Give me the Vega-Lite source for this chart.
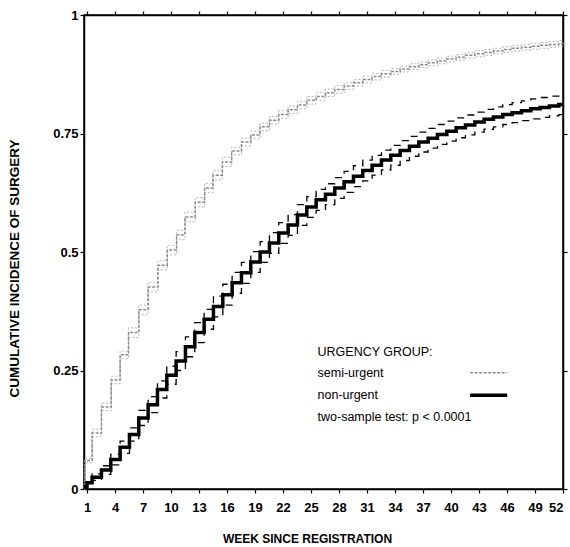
{
  "$schema": "https://vega.github.io/schema/vega-lite/v6.json",
  "width": 479,
  "height": 474,
  "autosize": {"type": "none"},
  "padding": {"left": 84, "top": 15, "right": 7, "bottom": 58},
  "background": "white",
  "config": {
    "view": {"stroke": "black", "strokeWidth": 1.5},
    "font": "Liberation Sans",
    "axis": {
      "grid": false,
      "domainColor": "black",
      "domainWidth": 1.5,
      "tickColor": "black",
      "tickWidth": 1.2,
      "tickSize": 4,
      "labelColor": "black",
      "labelFont": "Liberation Sans",
      "labelFontWeight": "bold",
      "labelFontSize": 13,
      "titleColor": "black",
      "titleFont": "Liberation Sans",
      "titleFontWeight": "bold",
      "titleFontSize": 12
    }
  },
  "datasets": {
    "semi": [
      {"week": 0.68, "est": 0, "lo": 0, "hi": 0},
      {"week": 0.79, "est": 0.06, "lo": 0.055, "hi": 0.065},
      {"week": 1.55, "est": 0.118, "lo": 0.11, "hi": 0.126},
      {"week": 2.55, "est": 0.173, "lo": 0.165, "hi": 0.181},
      {"week": 3.6, "est": 0.23, "lo": 0.222, "hi": 0.238},
      {"week": 4.55, "est": 0.283, "lo": 0.275, "hi": 0.291},
      {"week": 5.45, "est": 0.33, "lo": 0.32, "hi": 0.34},
      {"week": 6.55, "est": 0.378, "lo": 0.368, "hi": 0.388},
      {"week": 7.55, "est": 0.426, "lo": 0.416, "hi": 0.436},
      {"week": 8.6, "est": 0.472, "lo": 0.462, "hi": 0.482},
      {"week": 9.6, "est": 0.504, "lo": 0.494, "hi": 0.514},
      {"week": 10.6, "est": 0.536, "lo": 0.526, "hi": 0.546},
      {"week": 11.5, "est": 0.574, "lo": 0.564, "hi": 0.584},
      {"week": 12.6, "est": 0.605, "lo": 0.595, "hi": 0.615},
      {"week": 13.6, "est": 0.635, "lo": 0.625, "hi": 0.645},
      {"week": 14.5, "est": 0.662, "lo": 0.652, "hi": 0.672},
      {"week": 15.5, "est": 0.69, "lo": 0.68, "hi": 0.7},
      {"week": 16.5, "est": 0.713, "lo": 0.705, "hi": 0.721},
      {"week": 17.55, "est": 0.732, "lo": 0.724, "hi": 0.74},
      {"week": 18.55, "est": 0.747, "lo": 0.739, "hi": 0.755},
      {"week": 19.55, "est": 0.764, "lo": 0.756, "hi": 0.772},
      {"week": 20.55, "est": 0.778, "lo": 0.77, "hi": 0.786},
      {"week": 21.55, "est": 0.79, "lo": 0.782, "hi": 0.798},
      {"week": 22.55, "est": 0.8, "lo": 0.792, "hi": 0.808},
      {"week": 23.55, "est": 0.81, "lo": 0.802, "hi": 0.818},
      {"week": 24.55, "est": 0.82, "lo": 0.812, "hi": 0.828},
      {"week": 25.55, "est": 0.828, "lo": 0.82, "hi": 0.836},
      {"week": 26.55, "est": 0.836, "lo": 0.828, "hi": 0.844},
      {"week": 27.55, "est": 0.843, "lo": 0.835, "hi": 0.851},
      {"week": 28.55, "est": 0.85, "lo": 0.843, "hi": 0.857},
      {"week": 29.55, "est": 0.857, "lo": 0.85, "hi": 0.864},
      {"week": 30.55, "est": 0.864, "lo": 0.857, "hi": 0.871},
      {"week": 31.55, "est": 0.87, "lo": 0.863, "hi": 0.877},
      {"week": 32.55, "est": 0.876, "lo": 0.869, "hi": 0.883},
      {"week": 33.55, "est": 0.881, "lo": 0.875, "hi": 0.887},
      {"week": 34.55, "est": 0.886, "lo": 0.88, "hi": 0.892},
      {"week": 35.55, "est": 0.891, "lo": 0.885, "hi": 0.897},
      {"week": 36.55, "est": 0.895, "lo": 0.889, "hi": 0.901},
      {"week": 37.55, "est": 0.899, "lo": 0.893, "hi": 0.905},
      {"week": 38.55, "est": 0.903, "lo": 0.897, "hi": 0.909},
      {"week": 39.55, "est": 0.907, "lo": 0.901, "hi": 0.913},
      {"week": 40.55, "est": 0.911, "lo": 0.905, "hi": 0.917},
      {"week": 41.55, "est": 0.915, "lo": 0.909, "hi": 0.921},
      {"week": 42.55, "est": 0.918, "lo": 0.912, "hi": 0.924},
      {"week": 43.55, "est": 0.921, "lo": 0.915, "hi": 0.927},
      {"week": 44.55, "est": 0.924, "lo": 0.918, "hi": 0.93},
      {"week": 45.55, "est": 0.927, "lo": 0.921, "hi": 0.933},
      {"week": 46.55, "est": 0.93, "lo": 0.924, "hi": 0.936},
      {"week": 47.55, "est": 0.932, "lo": 0.926, "hi": 0.938},
      {"week": 48.55, "est": 0.934, "lo": 0.928, "hi": 0.94},
      {"week": 49.55, "est": 0.936, "lo": 0.93, "hi": 0.942},
      {"week": 50.55, "est": 0.938, "lo": 0.932, "hi": 0.944},
      {"week": 51.55, "est": 0.94, "lo": 0.934, "hi": 0.946},
      {"week": 52, "est": 0.941, "lo": 0.935, "hi": 0.947}
    ],
    "non": [
      {"week": 0.68, "est": 0.004, "lo": 0.001, "hi": 0.007},
      {"week": 1.0, "est": 0.013, "lo": 0.008, "hi": 0.018},
      {"week": 1.55, "est": 0.025, "lo": 0.018, "hi": 0.032},
      {"week": 2.55, "est": 0.04, "lo": 0.031, "hi": 0.049},
      {"week": 3.55, "est": 0.062, "lo": 0.051, "hi": 0.073},
      {"week": 4.55, "est": 0.088, "lo": 0.075, "hi": 0.101},
      {"week": 5.55, "est": 0.115, "lo": 0.101, "hi": 0.129},
      {"week": 6.55, "est": 0.15, "lo": 0.134, "hi": 0.166},
      {"week": 7.55, "est": 0.178, "lo": 0.161, "hi": 0.195},
      {"week": 8.55, "est": 0.21, "lo": 0.192, "hi": 0.228},
      {"week": 9.55, "est": 0.24, "lo": 0.221, "hi": 0.259},
      {"week": 10.55, "est": 0.27, "lo": 0.25, "hi": 0.29},
      {"week": 11.55, "est": 0.3, "lo": 0.279, "hi": 0.321},
      {"week": 12.55, "est": 0.33, "lo": 0.309, "hi": 0.351},
      {"week": 13.55, "est": 0.358, "lo": 0.337, "hi": 0.379},
      {"week": 14.55, "est": 0.385, "lo": 0.363, "hi": 0.407},
      {"week": 15.55, "est": 0.41, "lo": 0.388, "hi": 0.432},
      {"week": 16.55, "est": 0.435, "lo": 0.413, "hi": 0.457},
      {"week": 17.55, "est": 0.456, "lo": 0.434, "hi": 0.478},
      {"week": 18.55, "est": 0.479, "lo": 0.457, "hi": 0.501},
      {"week": 19.55, "est": 0.5, "lo": 0.478, "hi": 0.522},
      {"week": 20.55, "est": 0.519, "lo": 0.497, "hi": 0.541},
      {"week": 21.55, "est": 0.54, "lo": 0.518, "hi": 0.562},
      {"week": 22.55, "est": 0.557, "lo": 0.535, "hi": 0.579},
      {"week": 23.55, "est": 0.578, "lo": 0.556, "hi": 0.6},
      {"week": 24.55, "est": 0.595, "lo": 0.573, "hi": 0.617},
      {"week": 25.55, "est": 0.61, "lo": 0.588, "hi": 0.632},
      {"week": 26.55, "est": 0.622, "lo": 0.6, "hi": 0.644},
      {"week": 27.55, "est": 0.635, "lo": 0.613, "hi": 0.657},
      {"week": 28.55, "est": 0.648, "lo": 0.626, "hi": 0.67},
      {"week": 29.55, "est": 0.66, "lo": 0.638, "hi": 0.682},
      {"week": 30.55, "est": 0.672, "lo": 0.65, "hi": 0.694},
      {"week": 31.55, "est": 0.683, "lo": 0.662, "hi": 0.704},
      {"week": 32.55, "est": 0.694, "lo": 0.673, "hi": 0.715},
      {"week": 33.55, "est": 0.704, "lo": 0.683, "hi": 0.725},
      {"week": 34.55, "est": 0.714, "lo": 0.693, "hi": 0.735},
      {"week": 35.55, "est": 0.723, "lo": 0.702, "hi": 0.744},
      {"week": 36.55, "est": 0.732, "lo": 0.711, "hi": 0.753},
      {"week": 37.55, "est": 0.74, "lo": 0.719, "hi": 0.761},
      {"week": 38.55, "est": 0.748, "lo": 0.727, "hi": 0.769},
      {"week": 39.55, "est": 0.755, "lo": 0.734, "hi": 0.776},
      {"week": 40.55, "est": 0.762, "lo": 0.741, "hi": 0.783},
      {"week": 41.55, "est": 0.768, "lo": 0.747, "hi": 0.789},
      {"week": 42.55, "est": 0.774, "lo": 0.753, "hi": 0.795},
      {"week": 43.55, "est": 0.78, "lo": 0.759, "hi": 0.801},
      {"week": 44.55, "est": 0.785, "lo": 0.764, "hi": 0.806},
      {"week": 45.55, "est": 0.79, "lo": 0.769, "hi": 0.811},
      {"week": 46.55, "est": 0.794, "lo": 0.773, "hi": 0.815},
      {"week": 47.55, "est": 0.798, "lo": 0.777, "hi": 0.819},
      {"week": 48.55, "est": 0.802, "lo": 0.781, "hi": 0.823},
      {"week": 49.55, "est": 0.805, "lo": 0.784, "hi": 0.826},
      {"week": 50.55, "est": 0.808, "lo": 0.787, "hi": 0.829},
      {"week": 51.55, "est": 0.811, "lo": 0.79, "hi": 0.832},
      {"week": 52, "est": 0.811, "lo": 0.79, "hi": 0.832}
    ],
    "legendLines": [
      {"group": "semi-urgent", "week": 42.05, "week2": 46.02, "y": 0.245},
      {"group": "non-urgent", "week": 42.05, "week2": 46.02, "y": 0.198}
    ],
    "notes": [
      {"label": "URGENCY GROUP:", "week": 25.7, "y": 0.29},
      {"label": "semi-urgent", "week": 25.7, "y": 0.245},
      {"label": "non-urgent", "week": 25.7, "y": 0.198},
      {"label": "two-sample test: p < 0.0001", "week": 25.7, "y": 0.152}
    ]
  },
  "layer": [
    {
      "data": {"name": "semi"},
      "mark": {"type": "line", "interpolate": "step-after", "color": "#b3b3b3", "strokeWidth": 1, "strokeDash": [2, 2]},
      "encoding": {
        "x": {"field": "week", "type": "quantitative", "scale": {"domain": [0.68, 52], "nice": false, "zero": false},
              "axis": {"orient": "top", "values": [1, 4, 7, 10, 13, 16, 19, 22, 25, 28, 31, 34, 37, 40, 43, 46, 49, 52], "labels": false, "title": null}},
        "y": {"field": "lo", "type": "quantitative", "scale": {"domain": [0, 1], "nice": false},
              "axis": {"orient": "right", "values": [0, 0.25, 0.5, 0.75, 1], "labels": false, "title": null}}
      }
    },
    {
      "data": {"name": "semi"},
      "mark": {"type": "line", "interpolate": "step-after", "color": "#b3b3b3", "strokeWidth": 1, "strokeDash": [2, 2]},
      "encoding": {
        "x": {"field": "week", "type": "quantitative", "axis": null},
        "y": {"field": "hi", "type": "quantitative", "axis": null}
      }
    },
    {
      "data": {"name": "semi"},
      "mark": {"type": "line", "interpolate": "step-after", "color": "#8c8c8c", "strokeWidth": 1.5, "strokeDash": [3, 1.5]},
      "encoding": {
        "x": {"field": "week", "type": "quantitative", "axis": null},
        "y": {"field": "est", "type": "quantitative", "axis": null}
      }
    },
    {
      "data": {"name": "non"},
      "mark": {"type": "line", "interpolate": "step-after", "color": "black", "strokeWidth": 1.3, "strokeDash": [7, 6]},
      "encoding": {
        "x": {"field": "week", "type": "quantitative", "axis": null},
        "y": {"field": "lo", "type": "quantitative", "axis": null}
      }
    },
    {
      "data": {"name": "non"},
      "mark": {"type": "line", "interpolate": "step-after", "color": "black", "strokeWidth": 1.3, "strokeDash": [7, 6]},
      "encoding": {
        "x": {"field": "week", "type": "quantitative", "axis": null},
        "y": {"field": "hi", "type": "quantitative", "axis": null}
      }
    },
    {
      "data": {"name": "non"},
      "mark": {"type": "line", "interpolate": "step-after", "color": "black", "strokeWidth": 3.5},
      "encoding": {
        "x": {"field": "week", "type": "quantitative",
              "axis": {"orient": "bottom", "values": [1, 4, 7, 10, 13, 16, 19, 22, 25, 28, 31, 34, 37, 40, 43, 46, 49, 52],
                       "labelPadding": 8, "title": "WEEK SINCE REGISTRATION", "titleX": 223, "titleY": 49, "titleBaseline": "middle", "titleAnchor": null}},
        "y": {"field": "est", "type": "quantitative",
              "axis": {"orient": "left", "values": [0, 0.25, 0.5, 0.75, 1], "format": ".2~f", "labelPadding": 2,
                       "title": "CUMULATIVE INCIDENCE OF SURGERY", "titleX": -70, "titleY": 253, "titleBaseline": "middle", "titleFontSize": 13.5}}
      }
    },
    {
      "data": {"name": "legendLines"},
      "transform": [{"filter": "datum.group === 'semi-urgent'"}],
      "mark": {"type": "rule", "color": "#8c8c8c", "strokeWidth": 1.5, "strokeDash": [3, 1.5]},
      "encoding": {
        "x": {"field": "week", "type": "quantitative", "axis": null},
        "x2": {"field": "week2"},
        "y": {"field": "y", "type": "quantitative", "axis": null}
      }
    },
    {
      "data": {"name": "legendLines"},
      "transform": [{"filter": "datum.group === 'non-urgent'"}],
      "mark": {"type": "rule", "color": "black", "strokeWidth": 3.5},
      "encoding": {
        "x": {"field": "week", "type": "quantitative", "axis": null},
        "x2": {"field": "week2"},
        "y": {"field": "y", "type": "quantitative", "axis": null}
      }
    },
    {
      "data": {"name": "notes"},
      "mark": {"type": "text", "align": "left", "baseline": "middle", "font": "Liberation Sans", "fontSize": 12.5, "color": "black"},
      "encoding": {
        "x": {"field": "week", "type": "quantitative", "axis": null},
        "y": {"field": "y", "type": "quantitative", "axis": null},
        "text": {"field": "label"}
      }
    }
  ]
}
